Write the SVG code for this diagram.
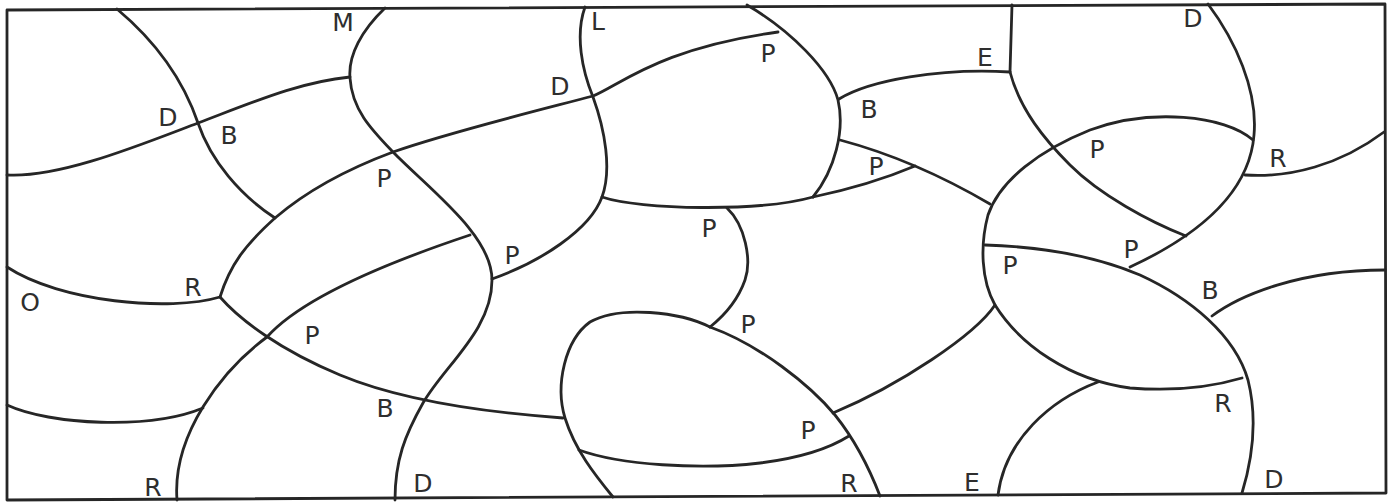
<svg xmlns="http://www.w3.org/2000/svg" width="1395" height="502" viewBox="0 0 1395 502">
<style>
.ln{fill:none;stroke:#262626;stroke-width:2.8;stroke-linecap:round;stroke-linejoin:round}
.lb{font-family:"DejaVu Sans","Liberation Sans",sans-serif;font-size:25px;fill:#2e2e2e;text-anchor:middle}
</style>
<rect width="1395" height="502" fill="#ffffff"/>
<g id="frame"><path class="ln" d="M7,10 L1385,4 L1386,493 L7,500 Z"/></g>
<g id="curves">
<path class="ln" d="M117,9 C160,45 185,85 198,123 S240,195 275,218"/>
<path class="ln" d="M7,175 C60,178 140,145 198,123 S300,82 350,77"/>
<path class="ln" d="M385,8 C362,30 348,55 350,78 C352,110 372,130 393,152 C430,190 492,235 492,280 C492,330 445,365 423,403 C405,435 395,460 395,500"/>
<path class="ln" d="M220,297 C230,265 245,245 275,218 C310,188 350,168 393,152 C450,132 540,110 593,96 C620,85 660,48 778,32"/>
<path class="ln" d="M220,297 C170,312 60,302 7,267"/>
<path class="ln" d="M220,297 C240,320 280,350 340,375 C400,400 480,412 563,418"/>
<path class="ln" d="M470,235 C380,265 300,300 267,337 C222,370 172,435 177,500"/>
<path class="ln" d="M7,405 C50,425 150,430 203,408"/>
<path class="ln" d="M585,7 C575,35 582,70 593,97 C605,130 612,170 602,197 C590,230 540,262 492,279"/>
<path class="ln" d="M602,197 C640,210 760,212 813,197"/>
<path class="ln" d="M813,197 C835,170 845,130 838,100 C830,70 790,30 747,5"/>
<path class="ln" d="M727,208 C745,225 752,260 745,280 C738,300 725,315 710,327"/>
<path class="ln" d="M839,99 C870,80 940,68 1010,72"/>
<path class="ln" d="M1012,5 L1010,72"/>
<path class="ln" d="M840,140 Q915,160 990,204"/>
<path class="ln" d="M813,197 Q870,185 915,166"/>
<path class="ln" d="M1010,72 C1020,110 1045,140 1070,165 C1100,195 1150,222 1186,236"/>
<path class="ln" d="M1208,4 C1235,40 1258,90 1254,135 C1250,185 1210,230 1130,267"/>
<path class="ln" d="M1245,175 C1290,178 1340,165 1384,132"/>
<path class="ln" d="M1253,140 C1225,115 1150,108 1090,130 C1040,150 1000,180 988,215 C980,245 981,280 995,305 C1020,345 1070,380 1130,388 C1180,392 1215,386 1242,378"/>
<path class="ln" d="M985,245 C1050,247 1100,258 1140,275 C1190,298 1235,335 1248,380 C1258,420 1252,460 1242,493"/>
<path class="ln" d="M995,305 C975,335 900,385 833,413"/>
<path class="ln" d="M1098,382 C1050,400 1005,440 998,495"/>
<path class="ln" d="M1212,316 C1240,295 1300,270 1385,270"/>
<path class="ln" d="M710,327 C680,312 620,305 590,322 C565,340 555,385 565,418 C575,450 595,475 613,497"/>
<path class="ln" d="M710,327 C760,345 810,385 835,415 C855,440 870,470 880,496"/>
<path class="ln" d="M579,450 C620,465 700,470 760,463 C800,458 830,448 849,436"/>
</g>
<g id="labels">
<text class="lb" x="343" y="31">M</text>
<text class="lb" x="168" y="126">D</text>
<text class="lb" x="229" y="144">B</text>
<text class="lb" x="384" y="187">P</text>
<text class="lb" x="598" y="30" font-size="19">L</text>
<text class="lb" x="768" y="62">P</text>
<text class="lb" x="560" y="95">D</text>
<text class="lb" x="869" y="118">B</text>
<text class="lb" x="876" y="175">P</text>
<text class="lb" x="985" y="66">E</text>
<text class="lb" x="1193" y="27">D</text>
<text class="lb" x="1097" y="158">P</text>
<text class="lb" x="1278" y="167">R</text>
<text class="lb" x="709" y="237">P</text>
<text class="lb" x="512" y="264">P</text>
<text class="lb" x="1131" y="258">P</text>
<text class="lb" x="1010" y="274">P</text>
<text class="lb" x="1210" y="299">B</text>
<text class="lb" x="1223" y="412">R</text>
<text class="lb" x="972" y="491">E</text>
<text class="lb" x="1274" y="488">D</text>
<text class="lb" x="30" y="311" font-size="18">O</text>
<text class="lb" x="193" y="296">R</text>
<text class="lb" x="312" y="344">P</text>
<text class="lb" x="385" y="417">B</text>
<text class="lb" x="153" y="496">R</text>
<text class="lb" x="423" y="492">D</text>
<text class="lb" x="748" y="333">P</text>
<text class="lb" x="808" y="439">P</text>
<text class="lb" x="849" y="492">R</text>
</g>
</svg>
